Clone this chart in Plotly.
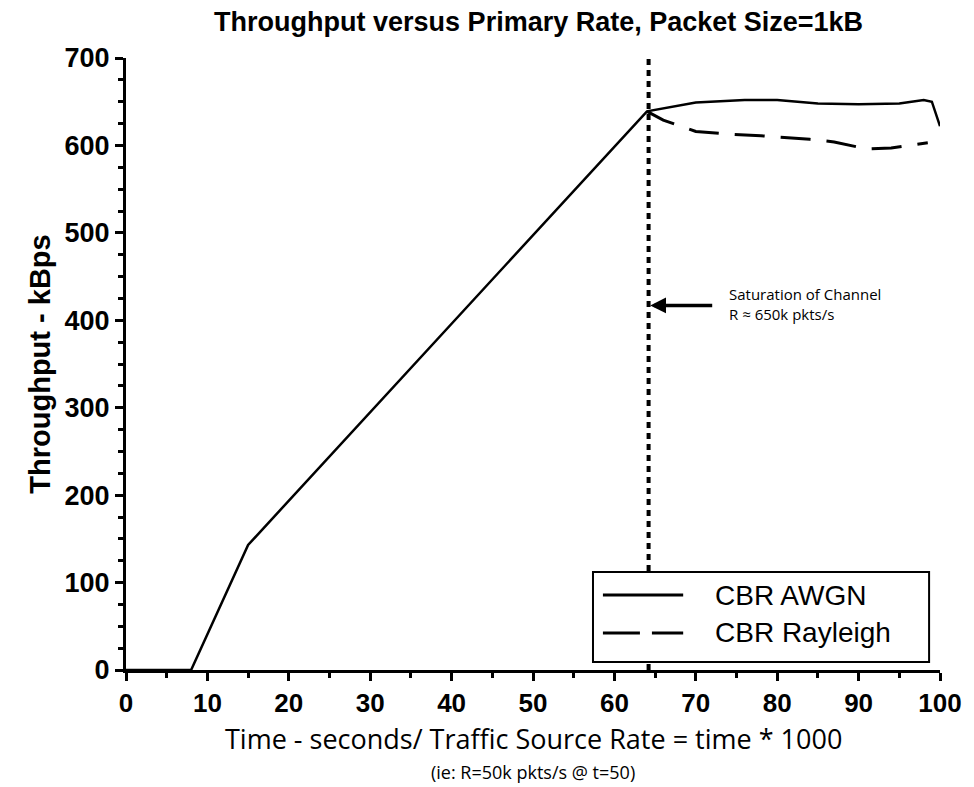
import plotly.graph_objects as go

awgn_x = [0, 8, 15, 64, 70, 76, 80, 85, 90, 95, 98, 99, 100]
awgn_y = [0, 0, 143, 639, 649, 652, 652, 648, 647, 648, 652, 650, 622]
ray_x = [64, 66, 70, 74, 78, 84, 87, 91, 94, 98.5]
ray_y = [639, 629, 616, 613, 611, 607, 604, 596, 597, 603]
sat_x = 64.2
x_ticks = [0, 10, 20, 30, 40, 50, 60, 70, 80, 90, 100]
y_ticks = [0, 100, 200, 300, 400, 500, 600, 700]
legend_names = ["CBR AWGN", "CBR Rayleigh"]

fig = go.Figure()
fig.add_trace(go.Scatter(x=awgn_x, y=awgn_y, mode="lines", name=legend_names[0],
                         line=dict(color="black", width=2.5)))
fig.add_trace(go.Scatter(x=ray_x, y=ray_y, mode="lines", name=legend_names[1],
                         line=dict(color="black", width=3, dash="30px,16px")))

fig.add_shape(type="line", x0=sat_x, x1=sat_x, y0=0, y1=1, xref="x", yref="paper",
              line=dict(color="black", width=4, dash="6px,5px"))

fig.add_annotation(x=sat_x + 0.2, y=417, ax=72.2, ay=417, axref="x", ayref="y",
                   xref="x", yref="y", text="", showarrow=True, arrowhead=2,
                   arrowsize=0.9, arrowwidth=3.5, arrowcolor="black")
fig.add_annotation(x=73.8, y=419, xref="x", yref="y", xanchor="left", yanchor="middle",
                   text="Saturation of Channel<br>R ≈ 650k pkts/s", showarrow=False, align="left",
                   font=dict(family="Open Sans", size=15, color="black"))

# x-axis title and note
fig.add_annotation(x=0.5, y=-0.112, xref="paper", yref="paper", showarrow=False,
                   xanchor="center", yanchor="middle",
                   text="Time - seconds/ Traffic Source Rate = time * 1000",
                   font=dict(family="Open Sans", size=27, color="black"))
fig.add_annotation(x=0.5, y=-0.166, xref="paper", yref="paper", showarrow=False,
                   xanchor="center", yanchor="middle",
                   text="(ie: R=50k pkts/s @ t=50)",
                   font=dict(family="Open Sans", size=18, color="black"))

# manual legend
fig.add_shape(type="rect", xref="paper", yref="paper", x0=0.5737, x1=0.9866, y0=0.013, y1=0.160,
              line=dict(color="black", width=2), fillcolor="white", layer="above")
legend_y = [0.1225, 0.0605]
legend_dash = ["solid", "37px,12px"]
for name, ly, dsh in zip(legend_names, legend_y, legend_dash):
    fig.add_shape(type="line", xref="paper", yref="paper", x0=0.5859, x1=0.6845, y0=ly, y1=ly,
                  line=dict(color="black", width=3, dash=dsh), layer="above")
    fig.add_annotation(x=0.7211, y=ly, xref="paper", yref="paper", showarrow=False,
                       xanchor="left", yanchor="middle", text=name,
                       font=dict(family="Liberation Sans", size=28, color="black"))

fig.update_layout(
    width=974, height=787,
    margin=dict(l=126, r=27, t=58, b=117),
    paper_bgcolor="white", plot_bgcolor="white",
    title=dict(text="Throughput versus Primary Rate, Packet Size=1kB", x=0.553, xref="container",
               xanchor="center", y=0.973, yanchor="middle",
               font=dict(family="Liberation Sans", size=27, color="black", weight="bold")),
    showlegend=False,
    xaxis=dict(range=[0, 100], tickvals=x_ticks, showgrid=False, zeroline=False,
               showline=True, linecolor="black", linewidth=3,
               ticks="outside", ticklen=8, tickwidth=3, tickcolor="black",
               minor=dict(dtick=5, ticks="outside", ticklen=5, tickwidth=3, tickcolor="black"),
               tickfont=dict(family="Liberation Sans", size=26, color="black", weight="bold")),
    yaxis=dict(range=[0, 700], tickvals=y_ticks, showgrid=False, zeroline=False,
               showline=True, linecolor="black", linewidth=3,
               ticks="outside", ticklen=8, tickwidth=3, tickcolor="black",
               minor=dict(dtick=25, ticks="outside", ticklen=5, tickwidth=3, tickcolor="black"),
               tickfont=dict(family="Liberation Sans", size=27, color="black", weight="bold"),
               title=dict(text="Throughput - kBps", standoff=6,
                          font=dict(family="Liberation Sans", size=29, color="black", weight="bold"))),
)

fig.write_html("out.html")
